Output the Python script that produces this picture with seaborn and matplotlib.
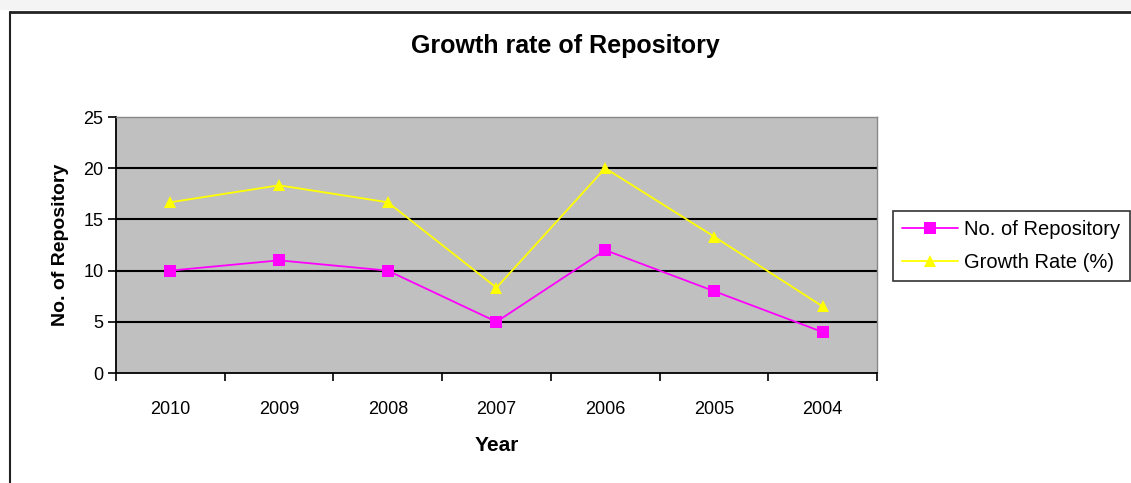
import pandas as pd
import matplotlib.pyplot as plt
import seaborn as sns
from matplotlib.patches import Rectangle
from matplotlib.ticker import FixedLocator

years = ['2010', '2009', '2008', '2007', '2006', '2005', '2004']
repos = [10, 11, 10, 5, 12, 8, 4]
growth = [16.67, 18.33, 16.67, 8.33, 20.0, 13.33, 6.5]

df = pd.DataFrame({
    'Year': years * 2,
    'value': repos + growth,
    'series': ['No. of Repository'] * len(years) + ['Growth Rate (%)'] * len(years),
})

sns.set_style('white')
plt.rcParams['font.family'] = ['Liberation Sans', 'DejaVu Sans']
plt.rcParams['text.color'] = 'black'
plt.rcParams['axes.labelcolor'] = 'black'
plt.rcParams['xtick.color'] = 'black'
plt.rcParams['ytick.color'] = 'black'

fig = plt.figure(figsize=(11.31, 4.83), dpi=100)
fig.patch.set_facecolor('white')
# light strip on top and outer chart frame
fig.patches.append(Rectangle((0, 1 - 10 / 483), 1, 10 / 483, transform=fig.transFigure,
                             facecolor='#f4f4f4', edgecolor='none', zorder=0))
fig.add_artist(plt.Line2D([10 / 1131, 10 / 1131], [0, 1 - 12 / 483], color='#222222', lw=1.5,
                          transform=fig.transFigure))
fig.add_artist(plt.Line2D([10 / 1131, 1], [1 - 12 / 483, 1 - 12 / 483], color='#222222', lw=2,
                          transform=fig.transFigure))

ax = fig.add_axes([116 / 1131, 1 - 373 / 483, (877 - 116) / 1131, (373 - 117) / 483])
ax.set_facecolor('#c0c0c0')

sns.lineplot(data=df, x='Year', y='value', hue='series', style='series',
             markers={'No. of Repository': 's', 'Growth Rate (%)': '^'},
             dashes=False, palette={'No. of Repository': '#ff00ff', 'Growth Rate (%)': '#ffff00'},
             markersize=8, linewidth=1.3, markeredgewidth=0, ax=ax, zorder=3)

ax.set_xlim(-0.5, 6.5)
ax.set_ylim(0, 25)
ax.set_yticks([0, 5, 10, 15, 20, 25])
for y in [5, 10, 15, 20]:
    ax.axhline(y, color='black', lw=1.5, zorder=1)

ax.set_xticks(range(len(years)))
ax.set_xticklabels(years, fontsize=13)
ax.xaxis.set_minor_locator(FixedLocator([i - 0.5 for i in range(len(years) + 1)]))
ax.tick_params(axis='x', which='major', length=0, pad=20)
ax.tick_params(axis='x', which='minor', length=6, width=1.2, color='black', direction='out', bottom=True)
ax.tick_params(axis='y', length=6, width=1.2, color='black', direction='out', left=True, labelsize=13, pad=3)

for side in ['top', 'right']:
    ax.spines[side].set_color('#888888')
    ax.spines[side].set_linewidth(1)
for side in ['left', 'bottom']:
    ax.spines[side].set_color('black')
    ax.spines[side].set_linewidth(1.3)

ax.set_xlabel('Year', fontsize=15, fontweight='bold', labelpad=13)
ax.set_ylabel('No. of Repository', fontsize=14, fontweight='bold', labelpad=10)
fig.text(0.5, 1 - 46 / 483, 'Growth rate of Repository', ha='center', va='center',
         fontsize=18, fontweight='bold')

leg = ax.legend(loc='upper left', bbox_to_anchor=(893 / 1131, 1 - 211 / 483),
                bbox_transform=fig.transFigure, fontsize=14.5, frameon=True, fancybox=False,
                edgecolor='black', borderpad=0.45, handlelength=2.8, handletextpad=0.3,
                labelspacing=0.7, borderaxespad=0)
leg.get_frame().set_linewidth(1.2)

fig.savefig('out.png', dpi=100)
